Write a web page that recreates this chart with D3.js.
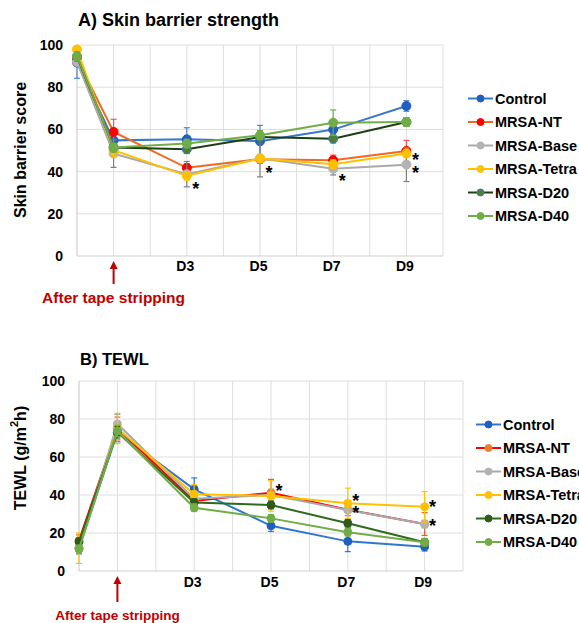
<!DOCTYPE html>
<html><head><meta charset="utf-8">
<script src="https://cdn.jsdelivr.net/npm/d3@7"></script>
<style>
html,body{margin:0;padding:0;background:#fff;}
text{font-family:"Liberation Sans",Arial,sans-serif;font-weight:bold;}
</style></head>
<body><svg id="chart" width="579" height="623"></svg>
<script>
// ---------- data ----------
const days = [0, 1, 3, 5, 7, 9];
const dayTickLabels = ["D3", "D5", "D7", "D9"];
const dayTickValues = [3, 5, 7, 9];
const seriesNames = ["Control", "MRSA-NT", "MRSA-Base", "MRSA-Tetra", "MRSA-D20", "MRSA-D40"];
const yTicks = [0, 20, 40, 60, 80, 100];

// A) Skin barrier score
const skinControl = [91.7, 54.8, 55.3, 54.4, 59.9, 71.1];
const skinNT      = [93.5, 58.8, 41.8, 45.9, 45.4, 49.8];
const skinBase    = [92.0, 48.5, 38.8, 46.3, 41.4, 43.3];
const skinTetra   = [97.9, 50.1, 38.0, 46.2, 43.5, 48.6];
const skinD20     = [94.5, 51.4, 50.6, 56.4, 55.6, 63.5];
const skinD40     = [94.7, 51.4, 53.3, 57.2, 63.2, 63.5];
const skinErrControl = [7.5, 3, 5.5, 7.5, 4, 2.5];
const skinErrNT      = [2, 6, 2, 2, 2.4, 5];
const skinErrBase    = [2, 6.5, 6, 8.8, 3, 8];
const skinErrTetra   = [1, 3, 2, 2, 2, 2];
const skinErrD20     = [2, 2, 2, 3, 2, 2];
const skinErrD40     = [2, 2, 2, 2, 6, 2];
const skinStars = [{day: 3, v: 33.6}, {day: 5, v: 41.1}, {day: 7, v: 37.4}, {day: 9, v: 47.3}, {day: 9, v: 41.1}];

// B) TEWL
const tewlControl = [12.0, 73.0, 43.0, 23.8, 15.6, 12.8];
const tewlNT      = [16.0, 75.0, 36.8, 41.2, 32.2, 24.7];
const tewlBase    = [12.0, 77.4, 38.0, 40.0, 32.1, 24.7];
const tewlTetra   = [12.0, 75.0, 40.4, 39.5, 35.6, 33.8];
const tewlD20     = [15.4, 73.0, 36.0, 34.7, 25.1, 15.1];
const tewlD40     = [11.6, 73.7, 33.3, 27.7, 20.4, 15.1];
const tewlErrControl = [3, 5, 6, 3, 5.4, 2.3];
const tewlErrNT      = [3, 6, 3, 7, 3, 6];
const tewlErrBase    = [3, 5, 3, 3, 3, 2];
const tewlErrTetra   = [8, 8, 5, 8, 8, 8];
const tewlErrD20     = [2, 3, 2, 2, 2, 2];
const tewlErrD40     = [2, 3, 2, 2, 2, 2];
const tewlStars = [{day: 5, v: 44.4}, {day: 7, v: 38.8}, {day: 7, v: 32.5}, {day: 9, v: 35.6}, {day: 9, v: 26.0}];

// ---------- styles ----------
const styleA = [
  {line: "#3a78cc", fill: "#1f5fc2", stroke: "#1f5fc2", err: "#4f86d4"},
  {line: "#f26a21", fill: "#ff0000", stroke: "#ff0000", err: "#ff5050"},
  {line: "#a9a9a9", fill: "#b3b3b3", stroke: "#b3b3b3", err: "#808080"},
  {line: "#ffc000", fill: "#ffc000", stroke: "#ffc000", err: "#ffc000"},
  {line: "#1e3d12", fill: "#4e7f30", stroke: "#3a78cc", err: "#4e7f30"},
  {line: "#70ad47", fill: "#70ad47", stroke: "#70ad47", err: "#70ad47"}
];
const styleB = [
  {line: "#2e78d2", fill: "#1f5fc2", stroke: "#1f5fc2", err: "#2e78d2"},
  {line: "#ff0000", fill: "#ed7d31", stroke: "#ed7d31", err: "#ed5a31"},
  {line: "#a9a9a9", fill: "#b3b3b3", stroke: "#b3b3b3", err: "#a0a0a0"},
  {line: "#ffc000", fill: "#ffc000", stroke: "#ffc000", err: "#ffc000"},
  {line: "#2f6a1c", fill: "#2f5a1a", stroke: "#2f5a1a", err: "#2f6a1c"},
  {line: "#70ad47", fill: "#70ad47", stroke: "#70ad47", err: "#70ad47"}
];

const svg = d3.select("#chart");

function drawPanel(cfg) {
  const g = svg.append("g");
  const x = d3.scaleLinear().domain([0, 10]).range(cfg.xRange);
  const y = d3.scaleLinear().domain([0, 100]).range(cfg.yRange);

  // gridlines
  g.append("g").selectAll("line.h").data(yTicks.slice(1)).join("line")
    .attr("x1", x(0)).attr("x2", x(10)).attr("y1", d => y(d)).attr("y2", d => y(d))
    .attr("stroke", "#dedede").attr("stroke-width", 1);
  g.append("g").selectAll("line.v").data(d3.range(1, 11)).join("line")
    .attr("x1", d => x(d)).attr("x2", d => x(d)).attr("y1", y(0)).attr("y2", y(100))
    .attr("stroke", "#dedede").attr("stroke-width", 1);
  // axes lines
  g.append("line").attr("x1", x(0)).attr("x2", x(0)).attr("y1", y(0)).attr("y2", y(100))
    .attr("stroke", "#cfcfcf").attr("stroke-width", 1.2);
  g.append("line").attr("x1", x(0)).attr("x2", x(10)).attr("y1", y(0)).attr("y2", y(0))
    .attr("stroke", "#cfcfcf").attr("stroke-width", 1.2);

  // y axis labels
  const ya = g.append("g").attr("transform", `translate(${x(0)},0)`)
    .call(d3.axisLeft(y).tickValues(yTicks).tickSize(0).tickPadding(14));
  ya.select(".domain").remove();
  ya.selectAll("text").attr("font-size", 14).attr("font-family", "Liberation Sans, Arial, sans-serif")
    .attr("font-weight", "bold").attr("fill", "#000");

  // x axis labels
  const xa = g.append("g").attr("transform", `translate(0,${y(0)})`)
    .call(d3.axisBottom(x).tickValues(dayTickValues).tickFormat((d, i) => dayTickLabels[i]).tickSize(0).tickPadding(cfg.xPad));
  xa.select(".domain").remove();
  xa.selectAll("text").attr("font-size", 14).attr("font-family", "Liberation Sans, Arial, sans-serif")
    .attr("font-weight", "bold").attr("fill", "#000").attr("dx", -2);

  // title
  g.append("text").attr("x", cfg.titleX).attr("y", cfg.titleY).attr("font-size", cfg.titleSize).text(cfg.title);

  // y label
  const yl = g.append("text").attr("transform", `translate(${cfg.yLabelX},${cfg.yLabelY}) rotate(-90)`)
    .attr("text-anchor", "middle").attr("dominant-baseline", "central").attr("font-size", 16);
  cfg.yLabel(yl);

  // arrow + annotation
  const ax = x(1);
  g.append("line").attr("x1", ax).attr("x2", ax).attr("y1", cfg.arrowTop + 6).attr("y2", cfg.arrowBottom)
    .attr("stroke", "#c00000").attr("stroke-width", 2);
  g.append("path").attr("d", `M${ax},${cfg.arrowTop} L${ax - 4},${cfg.arrowTop + 8} L${ax + 4},${cfg.arrowTop + 8} Z`)
    .attr("fill", "#c00000");
  g.append("text").attr("x", ax).attr("y", cfg.annotY).attr("text-anchor", "middle")
    .attr("font-size", cfg.annotSize).attr("fill", "#c00000").text("After tape stripping");

  // series
  const line = d3.line().x(d => x(d[0])).y(d => y(d[1]));
  cfg.values.forEach((vals, si) => {
    const st = cfg.styles[si];
    const pts = days.map((d, i) => [d, vals[i], cfg.errors[si][i]]);
    const eg = g.append("g").attr("stroke", st.err).attr("stroke-width", 1.2);
    pts.forEach(p => {
      const xx = x(p[0]), y1 = y(p[1] + p[2]), y2 = y(Math.max(0, p[1] - p[2]));
      eg.append("line").attr("x1", xx).attr("x2", xx).attr("y1", y1).attr("y2", y2);
      eg.append("line").attr("x1", xx - 3).attr("x2", xx + 3).attr("y1", y1).attr("y2", y1);
      eg.append("line").attr("x1", xx - 3).attr("x2", xx + 3).attr("y1", y2).attr("y2", y2);
    });
    g.append("path").datum(pts).attr("d", line).attr("fill", "none")
      .attr("stroke", st.line).attr("stroke-width", 2);
    g.append("g").selectAll("circle").data(pts).join("circle")
      .attr("cx", d => x(d[0])).attr("cy", d => y(d[1])).attr("r", cfg.r)
      .attr("fill", st.fill).attr("stroke", st.stroke).attr("stroke-width", 1);
  });

  // significance stars
  g.append("g").selectAll("text").data(cfg.stars).join("text")
    .attr("x", d => x(d.day) + cfg.starDx).attr("y", d => y(d.v) + 10)
    .attr("text-anchor", "middle").attr("font-size", 18).text("*");

  // legend
  const lg = g.append("g");
  seriesNames.forEach((name, i) => {
    const st = cfg.styles[i];
    const ly = cfg.legY + i * cfg.legStep;
    lg.append("line").attr("x1", cfg.legX).attr("x2", cfg.legX + 25).attr("y1", ly).attr("y2", ly)
      .attr("stroke", st.line).attr("stroke-width", 2);
    lg.append("circle").attr("cx", cfg.legX + 12.5).attr("cy", ly).attr("r", 3.5)
      .attr("fill", st.fill).attr("stroke", st.stroke).attr("stroke-width", 1);
    lg.append("text").attr("x", cfg.legX + 27).attr("y", ly).attr("dominant-baseline", "central")
      .attr("font-size", 14.5).text(name);
  });
}

drawPanel({
  xRange: [77, 443], yRange: [256, 45], xPad: 5,
  title: "A) Skin barrier strength", titleX: 78, titleY: 26, titleSize: 18,
  yLabelX: 20, yLabelY: 150,
  yLabel: t => t.text("Skin barrier score"),
  arrowTop: 261, arrowBottom: 284, annotY: 303, annotSize: 15.5,
  values: [skinControl, skinNT, skinBase, skinTetra, skinD20, skinD40],
  errors: [skinErrControl, skinErrNT, skinErrBase, skinErrTetra, skinErrD20, skinErrD40],
  styles: styleA, r: 4.5, stars: skinStars, starDx: 9,
  legX: 468, legY: 98.5, legStep: 23.5
});

drawPanel({
  xRange: [79, 463], yRange: [571, 381], xPad: 6,
  title: "B) TEWL", titleX: 80, titleY: 365, titleSize: 16.5,
  yLabelX: 20, yLabelY: 458,
  yLabel: t => { t.append("tspan").text("TEWL (g/m"); t.append("tspan").attr("font-size", 11).attr("dy", -6).text("2"); t.append("tspan").attr("dy", 6).text("h)"); },
  arrowTop: 576, arrowBottom: 602, annotY: 620, annotSize: 13.5,
  values: [tewlControl, tewlNT, tewlBase, tewlTetra, tewlD20, tewlD40],
  errors: [tewlErrControl, tewlErrNT, tewlErrBase, tewlErrTetra, tewlErrD20, tewlErrD40],
  styles: styleB, r: 4, stars: tewlStars, starDx: 8,
  legX: 476, legY: 424.5, legStep: 23.5
});
</script></body></html>
